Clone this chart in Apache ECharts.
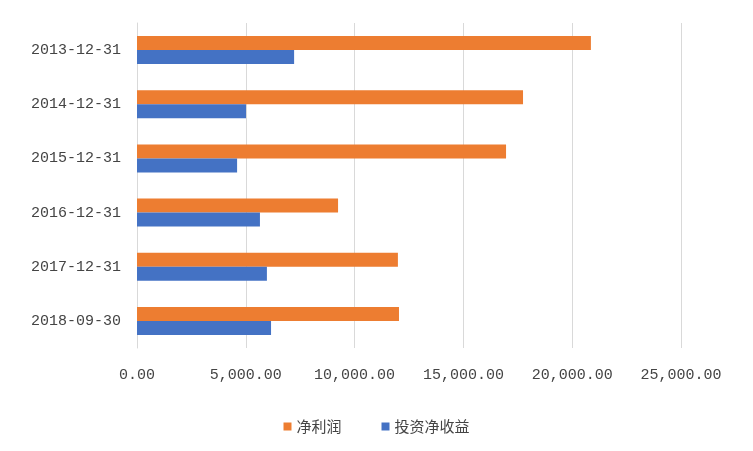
<!DOCTYPE html>
<html><head><meta charset="utf-8">
<script src="https://cdn.jsdelivr.net/npm/echarts@6/dist/echarts.min.js"></script>
<style>html,body{margin:0;padding:0;background:#fff}#c{width:753px;height:451px}</style>
</head><body><div id="c"></div>
<script>
const categories = ['2013-12-31', '2014-12-31', '2015-12-31', '2016-12-31', '2017-12-31', '2018-09-30']
const netProfit = [20860, 17740, 16960, 9240, 11990, 12040]
const investIncome = [7220, 5010, 4600, 5650, 5970, 6160]

const chart = echarts.init(document.getElementById('c'))
const mono = '"Liberation Mono", "Noto Sans CJK SC", monospace'
chart.setOption({
  animation: false,
  textStyle: { fontFamily: mono },
  grid: { left: 137, right: 72, top: 23, bottom: 103 },
  legend: {
    bottom: 12, left: 'center', itemGap: 40, itemWidth: 8, itemHeight: 8, icon: 'rect',
    data: ['净利润', '投资净收益'],
    textStyle: { fontSize: 15, color: '#444', fontFamily: '"Noto Sans CJK SC", serif' }
  },
  xAxis: {
    type: 'value', min: 0, max: 25000, interval: 5000,
    axisLabel: { color: '#444', fontSize: 15, margin: 20,
      formatter: v => v.toLocaleString('en-US', { minimumFractionDigits: 2 }) },
    splitLine: { lineStyle: { color: '#d9d9d9' } },
    axisLine: { show: false }, axisTick: { show: false }
  },
  yAxis: {
    type: 'category', inverse: true, data: categories,
    axisLabel: { color: '#444', fontSize: 15, margin: 16 },
    axisLine: { lineStyle: { color: '#d9d9d9' } }, axisTick: { show: false }
  },
  series: [
    { name: '净利润', type: 'bar', data: netProfit, itemStyle: { color: '#ed7d31' }, barWidth: 14, barGap: '0%' },
    { name: '投资净收益', type: 'bar', data: investIncome, itemStyle: { color: '#4472c4' }, barWidth: 14, barGap: '0%' }
  ]
})
</script></body></html>
